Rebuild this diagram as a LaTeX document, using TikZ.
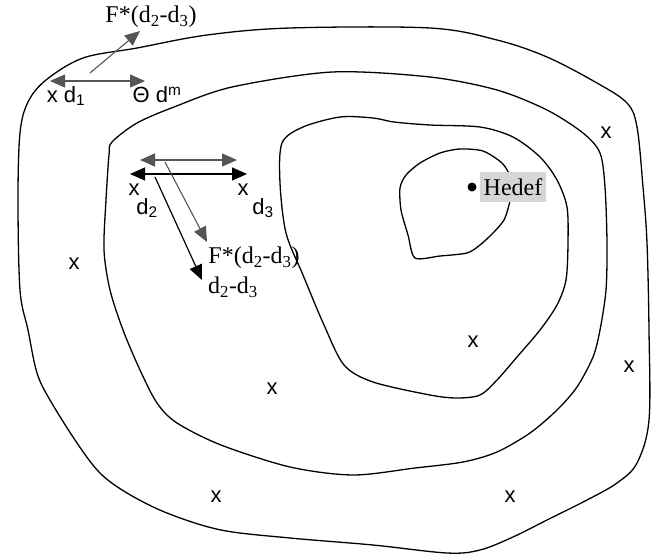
\documentclass[tikz,border=0pt]{standalone}
\usepackage{fontspec}
\setmainfont{Liberation Serif}
\setsansfont{Liberation Sans}
\usetikzlibrary{arrows.meta}
\definecolor{arrgray}{HTML}{555555}
\definecolor{boxgray}{HTML}{D6D6D6}
\begin{document}
\begin{tikzpicture}[x=1pt,y=-1pt,
  contour/.style={line width=1.3pt, black, line join=round},
  tip/.style={},
  garrow/.style={arrgray, line width=1.1pt, -{Triangle[length=15pt,width=13pt]}},
  gdarrow/.style={arrgray, line width=1.1pt, {Triangle[length=15pt,width=13pt]}-{Triangle[length=15pt,width=13pt]}},
  barrow/.style={black, line width=1.2pt, -{Triangle[length=15pt,width=13pt]}},
  bdarrow/.style={black, line width=1.2pt, {Triangle[length=15pt,width=13pt]}-{Triangle[length=15pt,width=13pt]}},
  serif/.style={font=\fontsize{24}{26}\selectfont, inner sep=0pt},
  sans/.style={font=\sffamily\fontsize{22}{24}\selectfont, inner sep=0pt},
  mark x/.style={font=\sffamily\fontsize{22}{24}\selectfont, inner sep=0pt},
  goal/.style={fill=boxgray, font=\fontsize{24}{26}\selectfont, inner xsep=4pt, inner ysep=3pt, minimum height=30pt}
]
\useasboundingbox (0,0) rectangle (651,555);

% contours
\draw[contour] plot[smooth cycle, tension=0.55] coordinates {
 (46,80) (83,58) (137,48) (207,35) (290,28) (430,28) (497,40) (547,57) (597,83)
 (627,103) (637,127) (643,187) (647,243) (649,330) (649,420) (637,463) (617,483)
 (587,500) (547,520) (513,537) (480,550) (447,553) (373,545) (290,538) (221,530)
 (167,513) (127,493) (100,473) (77,443) (50,400) (37,373) (28,330) (20,290)
 (18,200) (20,133) (28,102)};

\draw[contour] plot[smooth cycle, tension=0.5] coordinates {
 (112,142) (137,123) (174,107) (232,87) (332,72) (430,77) (497,90) (547,110)
 (583,133) (600,153) (605,187) (607,243) (606,290) (600,330) (593,357) (577,387)
 (557,410) (530,433) (497,452) (463,462) (415,468) (353,475) (290,467) (221,445)
 (177,423) (157,403) (140,370) (123,330) (110,290) (104,250) (106,200) (109,155)};

\draw[contour] plot[smooth cycle, tension=0.5] coordinates {
 (282,143) (303,127) (340,117) (373,118) (394,122) (430,125) (480,127) (513,137)
 (540,157) (557,180) (567,207) (568,243) (566,280) (557,305) (540,330) (517,357)
 (497,380) (480,395) (457,398) (430,395) (373,382) (344,365) (324,325) (303,275)
 (286,233) (280,183)};

\draw[contour] plot[smooth cycle, tension=0.45] coordinates {
 (400,188) (406,175) (420,163) (440,153) (460,149) (483,151) (502,163) (510,176)
 (512,190) (509,205) (504,220) (493,233) (480,245) (467,253) (440,256) (415,258)
 (408,235) (401,210)};

% goal
\fill (472,187) circle (4.5pt);
\node[goal] (hedef) at (513,187) {Hedef};

% top-left arrows
\coordinate (d1l) at (50,81);
\coordinate (d1r) at (145,81);
\draw[gdarrow] (d1l) -- (d1r);
\coordinate (f1s) at (90,73);
\coordinate (f1e) at (140,31);
\draw[garrow] (f1s) -- (f1e);
\node[serif] (f1) at (151,17) {F*(d\textsubscript{2}-d\textsubscript{3})};
\node[sans] (xd1) at (66,96) {x d\textsubscript{1}};
\node[sans] (thdm) at (157,95) {Θ d\textsuperscript{m}};

% middle arrows
\coordinate (ga) at (140,160);
\coordinate (gb) at (237,160);
\draw[gdarrow] (ga) -- (gb);
\coordinate (ba) at (130,174);
\coordinate (bb) at (247,174);
\draw[bdarrow] (ba) -- (bb);
\coordinate (gs) at (165,162);
\coordinate (ge) at (207,242);
\draw[garrow] (gs) -- (ge);
\coordinate (bs) at (155,177);
\coordinate (be) at (202,280);
\draw[barrow] (bs) -- (be);

\node[sans] (x2) at (134,190) {x};
\node[sans] (d2) at (147,208) {d\textsubscript{2}};
\node[sans] (x3) at (243,190) {x};
\node[sans] (d3) at (263,208) {d\textsubscript{3}};
\node[serif] (f2) at (254,258) {F*(d\textsubscript{2}-d\textsubscript{3})};
\node[serif] (dd) at (233,287) {d\textsubscript{2}-d\textsubscript{3}};

% x markers
\node[mark x] (m1) at (606,133) {x};
\node[mark x] (m2) at (74,264) {x};
\node[mark x] (m3) at (272,389) {x};
\node[mark x] (m4) at (473,342) {x};
\node[mark x] (m5) at (629,367) {x};
\node[mark x] (m6) at (216,497) {x};
\node[mark x] (m7) at (510,497) {x};
\end{tikzpicture}
\end{document}
